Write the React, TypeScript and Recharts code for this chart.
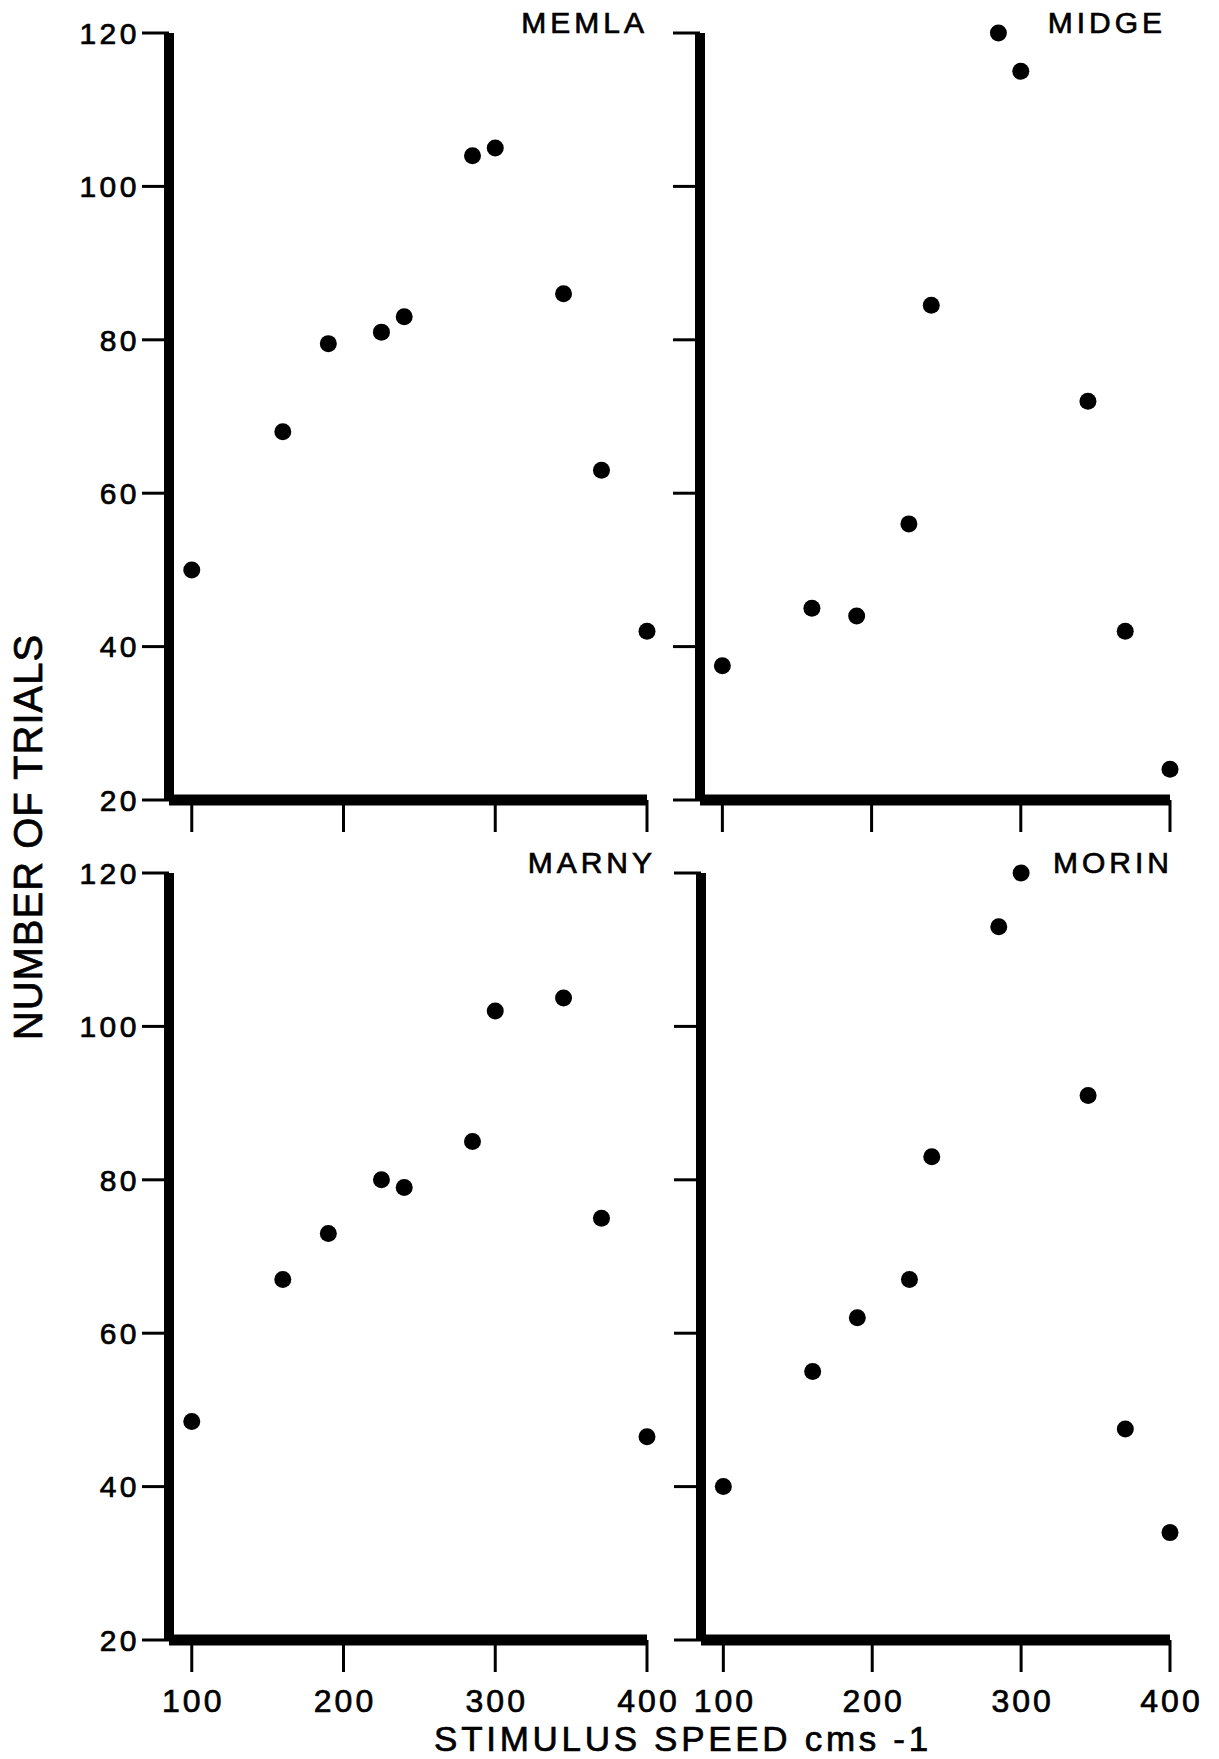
import { ScatterChart, Scatter, XAxis, YAxis } from 'recharts'

// stimulus speeds (cm/s), same for every animal
const speeds = [100, 160, 190, 225, 240, 285, 300, 345, 370, 400]

// number of trials per animal
const memla = [50, 68, 79.5, 81, 83, 104, 105, 86, 63, 42]
const midge = [37.5, 45, 44, 56, 84.5, 120, 115, 72, 42, 24]
const marny = [48.5, 67, 73, 80, 79, 85, 102, 103.7, 75, 46.5]
const morin = [40, 55, 62, 67, 83, 113, 120, 91, 47.5, 34]

const xTicks = [100, 200, 300, 400]
const yTicks = [20, 40, 60, 80, 100, 120]

const FONT = '"Liberation Sans", Arial, Helvetica, sans-serif'
const ML = 130
const MT = 20
const MR = 50
const MB = 110
const Y_TICK = 27
const Y_GAP = 5
const X_TICK = 32
const X_GAP = 17

const toRows = (vals: number[]) => speeds.map((s, i) => ({ x: s, y: vals[i] }))

// the scanned lettering is a bit heavier than plain Arial
const heavy = { stroke: '#000', strokeWidth: 0.7 }

// tick mark + optional label, drawn at the position the axis hands over
const makeYTick = (label: boolean) => (props: any) => {
  const { x, y, payload } = props
  const ax = x + Y_GAP + Y_TICK
  return (
    <g>
      <line x1={ax - Y_TICK} x2={ax} y1={y} y2={y} stroke="#000" strokeWidth={3} />
      {label && (
        <text x={x + 3} y={y} dy="0.36em" textAnchor="end" fill="#000" {...heavy}
          style={{ fontFamily: FONT, fontSize: 30, letterSpacing: 3.5 }}>
          {payload.value}
        </text>
      )}
    </g>
  )
}

const makeXTick = (label: boolean) => (props: any) => {
  const { x, y, payload } = props
  const ay = y - X_GAP - X_TICK
  return (
    <g>
      <line x1={x} x2={x} y1={ay} y2={ay + X_TICK} stroke="#000" strokeWidth={3} />
      {label && (
        <text x={x + 1.5} y={y} dy="0.71em" textAnchor="middle" fill="#000" {...heavy}
          style={{ fontFamily: FONT, fontSize: 32, letterSpacing: 3 }}>
          {payload.value}
        </text>
      )}
    </g>
  )
}

const dot = (props: any) => <circle cx={props.cx} cy={props.cy} r={8.5} fill="#000" />

interface PanelProps {
  values: number[]
  left: number
  top: number
  plotW: number
  plotH: number
  yLabels: boolean
  xLabels: boolean
}

function Panel({ values, left, top, plotW, plotH, yLabels, xLabels }: PanelProps) {
  const YTick = makeYTick(yLabels)
  const XTick = makeXTick(xLabels)
  return (
    <div style={{ position: 'absolute', left: left - ML, top: top - MT }}>
      <ScatterChart width={ML + plotW + MR} height={MT + plotH + MB}
        margin={{ top: MT, right: MR, bottom: 0, left: 0 }}>
        <XAxis type="number" dataKey="x" domain={[85, 400]} ticks={xTicks} interval={0}
          height={MB} tickSize={X_TICK} tickMargin={X_GAP}
          axisLine={{ stroke: '#000', strokeWidth: 11 }}
          tickLine={false}
          tick={<XTick />} />
        <YAxis type="number" dataKey="y" domain={[20, 120]} ticks={yTicks} interval={0}
          width={ML} tickSize={Y_TICK} tickMargin={Y_GAP}
          axisLine={{ stroke: '#000', strokeWidth: 10 }}
          tickLine={false}
          tick={<YTick />} />
        <Scatter data={toRows(values)} fill="#000" shape={dot} isAnimationActive={false} />
      </ScatterChart>
    </div>
  )
}

export default function App() {
  const titleStyle = { fontFamily: FONT, fontSize: 30, letterSpacing: 4 }
  return (
    <div style={{ position: 'absolute', left: 0, top: 0, width: 1219, height: 1759, background: '#fff', overflow: 'hidden' }}>
      <Panel values={memla} left={169} top={33} plotW={478} plotH={767} yLabels xLabels={false} />
      <Panel values={midge} left={700} top={33} plotW={470} plotH={767} yLabels={false} xLabels={false} />
      <Panel values={marny} left={169} top={873} plotW={478} plotH={767} yLabels xLabels />
      <Panel values={morin} left={701} top={873} plotW={469} plotH={767} yLabels={false} xLabels />
      <svg width={1219} height={1759} style={{ position: 'absolute', left: 0, top: 0, pointerEvents: 'none' }}>
        <text x={648} y={33} textAnchor="end" fill="#000" {...heavy} style={titleStyle}>MEMLA</text>
        <text x={1166} y={33} textAnchor="end" fill="#000" {...heavy} style={titleStyle}>MIDGE</text>
        <text x={656} y={873} textAnchor="end" fill="#000" {...heavy} style={titleStyle}>MARNY</text>
        <text x={1173} y={873} textAnchor="end" fill="#000" {...heavy} style={titleStyle}>MORIN</text>
        <text x={42} y={837} textAnchor="middle" fill="#000" transform="rotate(-90 42 837)" {...heavy}
          style={{ fontFamily: FONT, fontSize: 40, letterSpacing: 1 }}>NUMBER OF TRIALS</text>
        <text x={683} y={1751} textAnchor="middle" fill="#000" {...heavy}
          style={{ fontFamily: FONT, fontSize: 35, letterSpacing: 3.7 }}>STIMULUS SPEED cms -1</text>
      </svg>
    </div>
  )
}
